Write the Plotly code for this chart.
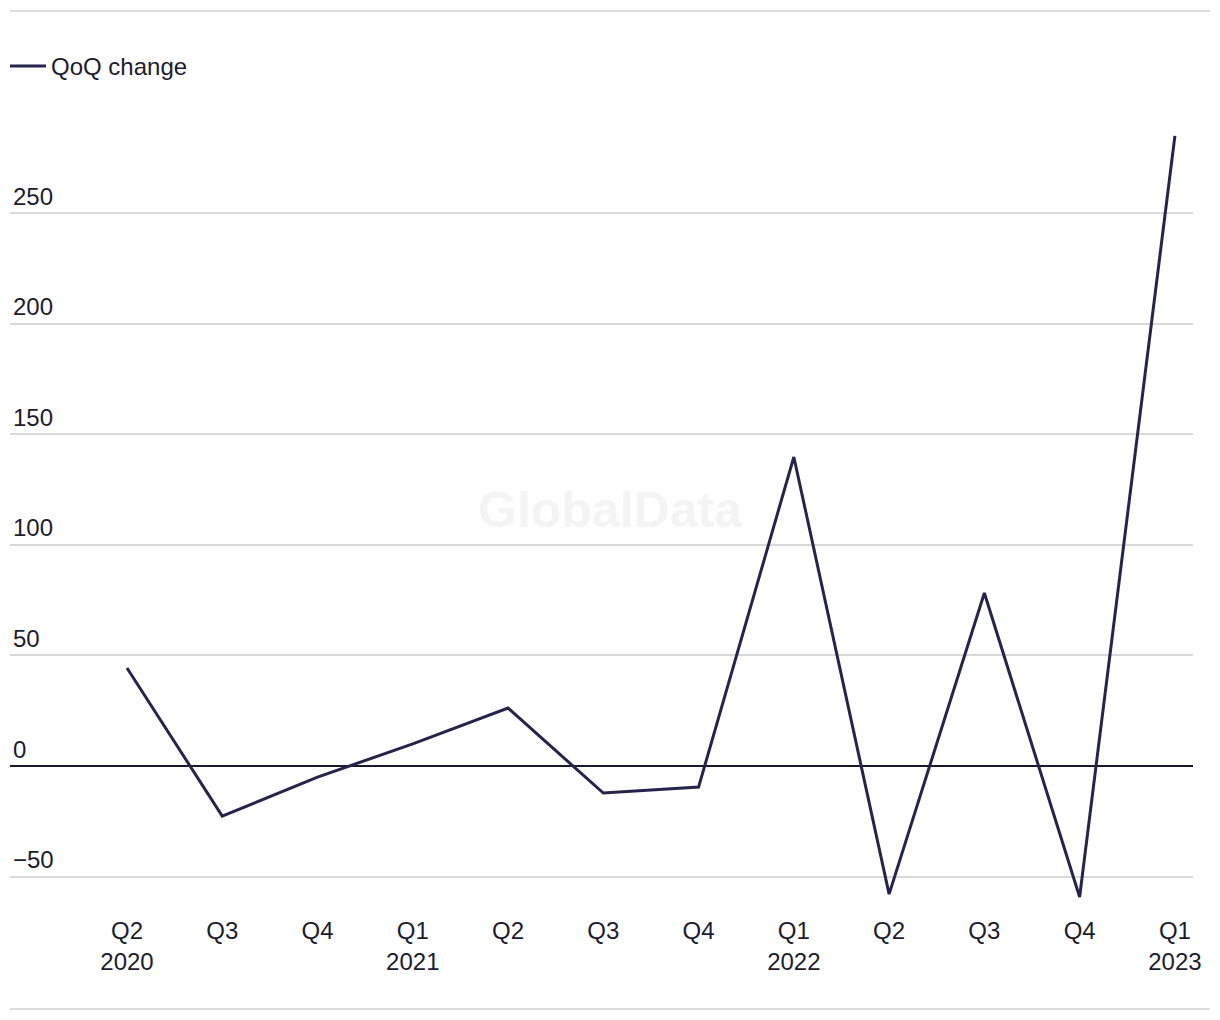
import plotly.graph_objects as go

quarters = ["Q2<br>2020", "Q3", "Q4", "Q1<br>2021", "Q2", "Q3", "Q4",
            "Q1<br>2022", "Q2", "Q3", "Q4", "Q1<br>2023"]
qoq_change = [44.3, -22.6, -5.0, 10.0, 26.2, -12.2, -9.5, 139.7, -57.9, 78.2, -59.2, 284.8]
y_ticks = [-50, 0, 50, 100, 150, 200, 250]
y_tick_text = ["\u221250", "0", "50", "100", "150", "200", "250"]

x_idx = list(range(len(quarters)))

LINE = "#25244b"
TEXT = "#1c1c2e"
FONT = "Liberation Sans, Arial, sans-serif"
FS = 24

W, H = 1220, 1020
ML, MR, MT, MB = 10, 27, 120, 115
PW, PH = W - ML - MR, H - MT - MB

fig = go.Figure()
fig.add_trace(go.Scatter(
    x=x_idx, y=qoq_change, mode="lines", name="QoQ change",
    line=dict(color=LINE, width=3),
))

fig.update_layout(
    width=W, height=H,
    margin=dict(l=ML, r=MR, t=MT, b=MB),
    paper_bgcolor="white", plot_bgcolor="white",
    font=dict(family=FONT, size=FS, color=TEXT),
    showlegend=True,
    legend=dict(x=5 / W, y=1 - 44 / H, xref="container", yref="container",
                xanchor="left", yanchor="top", itemwidth=36,
                orientation="h", font=dict(size=FS, color=TEXT),
                bgcolor="rgba(0,0,0,0)"),
    xaxis=dict(
        tickmode="array", tickvals=x_idx, ticktext=quarters,
        range=[-1.228, 11.19], showgrid=False, zeroline=False, showline=False,
        ticks="", tickfont=dict(size=FS, color=TEXT), ticklabelstandoff=9,
    ),
    yaxis=dict(
        tickmode="array", tickvals=y_ticks, ticktext=y_tick_text,
        range=[-62.8, 292.0], showgrid=True, gridcolor="#d9d9d9", gridwidth=1.5,
        zeroline=True, zerolinecolor="#1a1a2e", zerolinewidth=1.5,
        showline=False, ticks="", ticklabelposition="inside top",
        tickfont=dict(size=FS, color=TEXT),
    ),
)

# top and bottom separator lines
for ypix in (11, 1009):
    yp = (H - MB - ypix) / PH
    fig.add_shape(type="line", xref="paper", yref="paper",
                  x0=0, x1=(1210 - ML) / PW, y0=yp, y1=yp,
                  line=dict(color="#dddddd", width=2))

fig.add_annotation(text="<b>GlobalData</b>", x=(610 - ML) / PW, y=(H - MB - 510) / PH,
                   xref="paper", yref="paper", showarrow=False,
                   font=dict(size=50, color="#f4f4f4", family=FONT))

fig.write_html("out.html")
